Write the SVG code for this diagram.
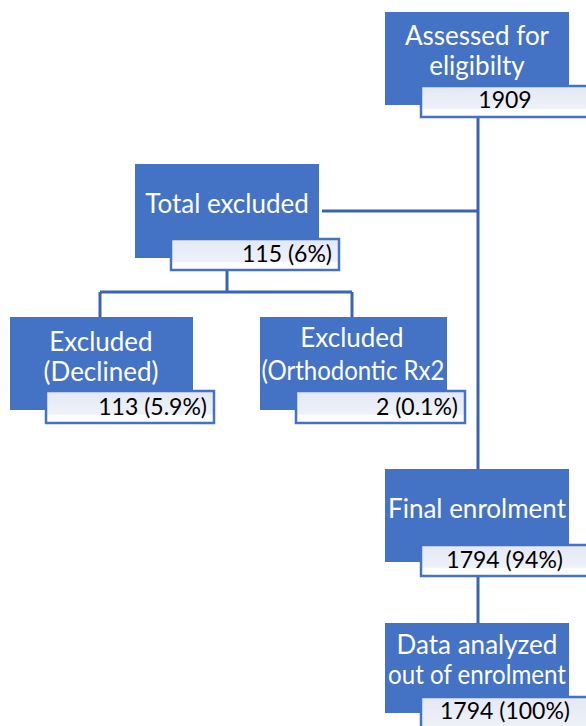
<svg xmlns="http://www.w3.org/2000/svg" width="586" height="726" viewBox="0 0 586 726">
<defs>
<linearGradient id="wg" x1="0" y1="0" x2="0" y2="1">
<stop offset="0" stop-color="#E3E8F4"/>
<stop offset="0.72" stop-color="#EEF1F8"/>
<stop offset="0.76" stop-color="#FFFFFF"/>
<stop offset="1" stop-color="#FFFFFF"/>
</linearGradient>
</defs>
<style>
.blue{fill:#4472C4;}
.val{fill:url(#wg);stroke:#4472C4;stroke-width:2.5;}
.lbl{font-family:Lato,"Open Sans","Liberation Sans",sans-serif;font-size:26px;fill:#FFFFFF;text-anchor:middle;}
.num{font-family:Lato,"Open Sans","Liberation Sans",sans-serif;font-size:23px;fill:#000000;text-anchor:end;}
.conn{fill:none;stroke:#3A62B5;stroke-width:3;}
</style>
<rect width="586" height="726" fill="#FFFFFF"/>
<g id="connectors">
<path class="conn" d="M478 117 V469"/>
<path class="conn" d="M322 211 H478"/>
<path class="conn" d="M227 270 V292"/>
<path class="conn" d="M100 292 H352"/>
<path class="conn" d="M100 292 V318"/>
<path class="conn" d="M352 292 V318"/>
<path class="conn" d="M478 576 V624"/>
</g>
<g id="assessed">
<rect class="blue" x="385" y="12" width="184" height="93"/>
<rect class="val" x="421" y="86" width="180" height="31"/>
<text class="lbl" x="477" y="45">Assessed for</text>
<text class="lbl" x="477" y="75">eligibilty</text>
<text class="num" x="505" y="108" style="text-anchor:middle">1909</text>
</g>
<g id="total-excluded">
<rect class="blue" x="135" y="164" width="184" height="94"/>
<rect class="val" x="171" y="239" width="168" height="31"/>
<text class="lbl" x="227" y="213">Total excluded</text>
<text class="num" x="332" y="262">115 (6%)</text>
</g>
<g id="excluded-declined">
<rect class="blue" x="10" y="317" width="183" height="93"/>
<rect class="val" x="46" y="391" width="168" height="32"/>
<text class="lbl" x="101" y="351">Excluded</text>
<text class="lbl" x="101" y="381">(Declined)</text>
<text class="num" x="207" y="415">113 (5.9%)</text>
</g>
<g id="excluded-ortho">
<rect class="blue" x="260" y="317" width="187" height="93"/>
<rect class="val" x="296" y="391" width="169" height="32"/>
<text class="lbl" x="352" y="347">Excluded</text>
<text class="lbl" x="353" y="380" textLength="183" lengthAdjust="spacingAndGlyphs">(Orthodontic Rx2</text>
<text class="num" x="458" y="415">2 (0.1%)</text>
</g>
<g id="final-enrolment">
<rect class="blue" x="385" y="469" width="184" height="93"/>
<rect class="val" x="421" y="545" width="180" height="31"/>
<text class="lbl" x="477" y="518">Final enrolment</text>
<text class="num" x="563" y="568">1794 (94%)</text>
</g>
<g id="data-analyzed">
<rect class="blue" x="385" y="623" width="184" height="90"/>
<rect class="val" x="421" y="697" width="180" height="40"/>
<text class="lbl" x="477" y="654">Data analyzed</text>
<text class="lbl" x="477" y="684" textLength="178" lengthAdjust="spacingAndGlyphs">out of enrolment</text>
<text class="num" x="570" y="719">1794 (100%)</text>
</g>
</svg>
